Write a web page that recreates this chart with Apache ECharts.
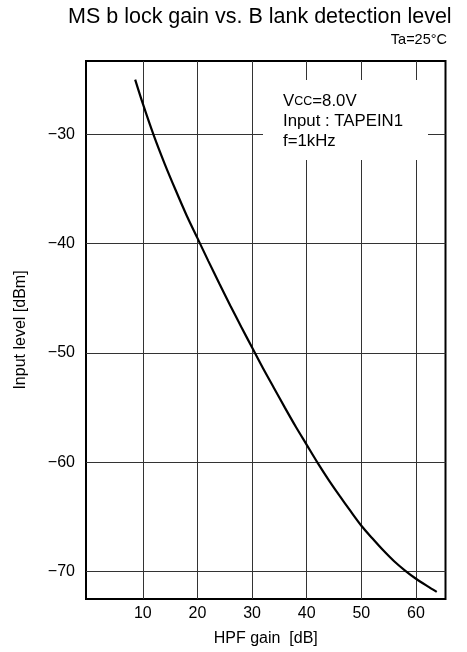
<!DOCTYPE html>
<html>
<head>
<meta charset="utf-8">
<script src="https://cdn.jsdelivr.net/npm/echarts@6/dist/echarts.min.js"></script>
<style>html,body{margin:0;padding:0;background:#fff;}#c{width:467px;height:652px;}</style>
</head>
<body>
<div id="c"></div>
<script>
// ---- data ----
var gainDb   = [8.6, 10, 12, 14, 16, 18, 20, 22, 24, 26, 28, 30, 32, 34, 36, 38, 40, 42, 44, 46, 48, 50, 52, 54, 56, 58, 60, 62, 63.8];
var inputDbm = [-25.0, -27.2, -30.1, -32.7, -35.1, -37.4, -39.5, -41.6, -43.65, -45.65, -47.6, -49.5, -51.4, -53.2, -55.0, -56.75, -58.4, -60.05, -61.6, -63.05, -64.45, -65.8, -66.95, -68.05, -69.05, -69.9, -70.65, -71.3, -71.85];
var xTicks = [10, 20, 30, 40, 50, 60];
var yTicks = [-70, -60, -50, -40, -30];
var titleText = 'MS b lock gain vs. B lank detection level';
var condText = 'Ta=25°C';
var xName = 'HPF gain  [dB]';
var yName = 'Input level [dBm]';
var noteLines = ['V{s|CC}=8.0V', 'Input : TAPEIN1', 'f=1kHz'];

var FONT = '"Liberation Sans", Arial, sans-serif';
var points = gainDb.map(function (g, i) { return [g, inputDbm[i]]; });
function minus(v) { return String(v).replace('-', '\u2212'); }

var chart = echarts.init(document.getElementById('c'), null, {renderer: 'canvas'});
chart.setOption({
  animation: false,
  backgroundColor: '#fff',
  grid: {left: 86, right: 21.5, top: 61, bottom: 52, show: true, borderColor: '#000', borderWidth: 2, backgroundColor: 'transparent'},
  xAxis: {
    type: 'value', min: -0.4, max: 65.4,
    name: xName, nameLocation: 'middle', nameGap: 32,
    nameTextStyle: {fontFamily: FONT, fontSize: 16, color: '#000'},
    axisLine: {show: false},
    axisTick: {show: false, customValues: xTicks},
    axisLabel: {customValues: xTicks, fontFamily: FONT, fontSize: 16, color: '#000', margin: 7},
    splitLine: {show: true, lineStyle: {color: '#333', width: 1}}
  },
  yAxis: {
    type: 'value', min: -72.5, max: -23.3,
    name: yName, nameLocation: 'middle', nameGap: 57,
    nameTextStyle: {fontFamily: FONT, fontSize: 16, color: '#000'},
    axisLine: {show: false},
    axisTick: {show: false, customValues: yTicks},
    axisLabel: {customValues: yTicks, fontFamily: FONT, fontSize: 16, color: '#000', margin: 11, formatter: minus},
    splitLine: {show: true, lineStyle: {color: '#333', width: 1}}
  },
  series: [{
    type: 'line', data: points, smooth: 0.3, showSymbol: false,
    lineStyle: {color: '#000', width: 2.2}, z: 5
  }],
  graphic: [
    {type: 'text', left: 68, top: 6, z: 20, style: {text: titleText, font: '21.5px ' + FONT, fill: '#000'}},
    {type: 'text', right: 20, top: 32, z: 20, style: {text: condText, font: '14.5px ' + FONT, fill: '#000'}},
    {type: 'rect', shape: {x: 263, y: 80, width: 165, height: 80}, style: {fill: '#fff'}, z: 15},
    {type: 'text', x: 283, y: 91, z: 20, style: {
      text: noteLines.join('\n'), fontFamily: FONT, fontSize: 16.8, lineHeight: 20, fill: '#000',
      rich: {s: {fontFamily: FONT, fontSize: 12.5, fill: '#000', lineHeight: 20, verticalAlign: 'bottom', padding: [0, 0, 3, 0]}}
    }}
  ]
});
</script>
</body>
</html>
